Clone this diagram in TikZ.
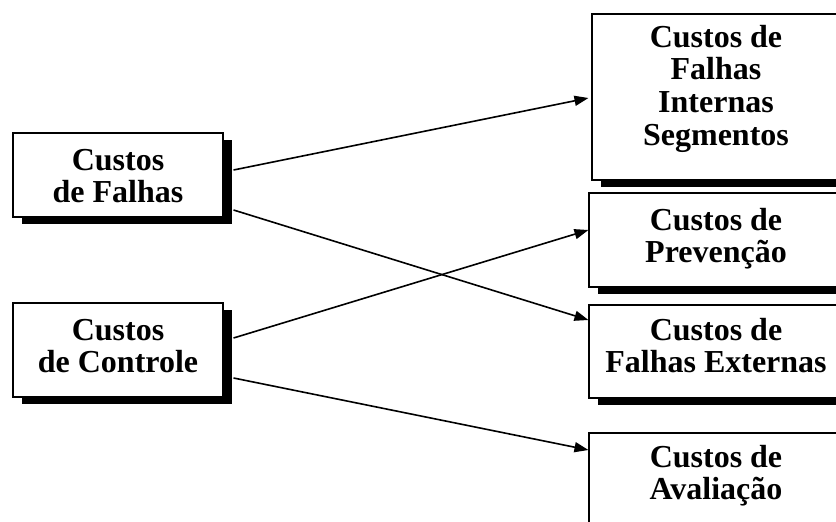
\documentclass[tikz,border=0pt]{standalone}
\usepackage{fontspec}
\setmainfont{Liberation Serif}
\usetikzlibrary{shadows,arrows.meta,calc}
\tikzset{
  box/.style={draw=black, line width=1.1pt, fill=white, rectangle, inner sep=0pt,
    general shadow={fill=black, shadow xshift=9pt, shadow yshift=-7pt}},
  lbl/.style={anchor=base, inner sep=0pt, font=\bfseries\fontsize{32}{32.7}\selectfont},
  conn/.style={line width=1.6pt, -{Triangle[length=14pt,width=10pt]}}
}
\newcommand{\lines}[1]{\begin{tabular}[t]{@{}c@{}}#1\end{tabular}}
\begin{document}
\begin{tikzpicture}[x=1pt,y=-1pt]
\useasboundingbox (0,0) rectangle (836,522);
\clip (0,0) rectangle (836,522);
% boxes
\node[box, minimum width=210pt, minimum height=84pt] (L1) at (118,175) {};
\node[box, minimum width=210pt, minimum height=94pt] (L2) at (118,350) {};
\node[box, minimum width=248pt, minimum height=166pt] (R1) at (716,97) {};
\node[box, minimum width=252pt, minimum height=94pt] (R2) at (715,240) {};
\node[box, minimum width=252pt, minimum height=93pt] (R3) at (715,351.5) {};
\node[box, minimum width=252pt, minimum height=94pt] (R4) at (715,480) {};
% texts
\node[lbl] (tL1) at (118,170) {\lines{Custos\\de Falhas}};
\node[lbl] (tL2) at (118,340) {\lines{Custos\\de Controle}};
\node[lbl] (tR1) at (716,47) {\lines{Custos de\\Falhas\\Internas\\Segmentos}};
\node[lbl] (tR2) at (716,230) {\lines{Custos de\\Preven\c{c}\~ao}};
\node[lbl] (tR3) at (716,340) {\lines{Custos de\\Falhas Externas}};
\node[lbl] (tR4) at (716,467) {\lines{Custos de\\Avalia\c{c}\~ao}};
% connectors
\draw[conn] ($(L1.east)+(10,-5)$) -- ($(R1.west)+(-3,1)$);
\draw[conn] ($(L1.east)+(10,35)$) -- ($(R3.west)+(0,-31.5)$);
\draw[conn] ($(L2.east)+(10,-12)$) -- ($(R2.west)+(0,-10)$);
\draw[conn] ($(L2.east)+(10,28)$) -- ($(R4.west)+(0,-30)$);
\end{tikzpicture}
\end{document}
